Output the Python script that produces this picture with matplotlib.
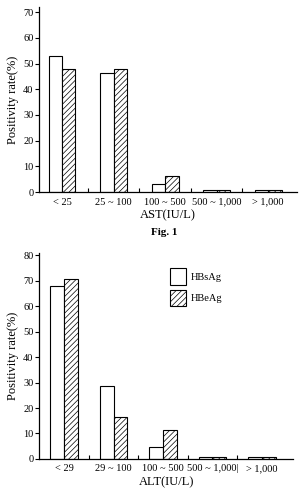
import matplotlib

matplotlib.use("Agg")
import matplotlib.pyplot as plt
import numpy as np

# AST groups (Fig. 1)
ast_groups = ["< 25", "25 ~ 100", "100 ~ 500", "500 ~ 1,000", "> 1,000"]
ast_hbsag = [53.0, 46.5, 3.0, 1.0, 1.0]
ast_hbeag = [47.8, 47.8, 6.3, 1.0, 1.0]

# ALT groups
alt_groups = ["< 29", "29 ~ 100", "100 ~ 500", "500 ~ 1,000|", "> 1,000"]
alt_hbsag = [67.8, 28.8, 4.6, 0.6, 0.6]
alt_hbeag = [70.9, 16.5, 11.2, 0.6, 0.6]

series_names = ["HBsAg", "HBeAg"]

plt.rcParams["font.family"] = ["Liberation Serif", "DejaVu Serif"]
plt.rcParams["hatch.linewidth"] = 0.5
FS = 7.5
LABEL_FS = 9


def draw_panel(ax, groups, s1, s2, width, ymax, yticks, xlim, xlabel):
    x = np.arange(len(groups))
    b1 = ax.bar(x - width / 2, s1, width, color="white", edgecolor="black",
                linewidth=0.8, label=series_names[0])
    b2 = ax.bar(x + width / 2, s2, width, color="white", edgecolor="black",
                linewidth=0.8, hatch="//////", label=series_names[1])
    ax.set_xlim(*xlim)
    ax.set_ylim(0, ymax)
    ax.set_yticks(yticks)
    ax.set_xticks(x)
    ax.set_xticklabels(groups, fontsize=FS)
    ax.set_xticks(x[:-1] + 0.5, minor=True)
    ax.tick_params(axis="x", which="major", length=0, pad=4)
    ax.tick_params(axis="x", which="minor", length=3, direction="in", width=0.8)
    ax.tick_params(axis="y", labelsize=FS, length=3, width=0.8, pad=1)
    for side in ("top", "right"):
        ax.spines[side].set_visible(False)
    for side in ("left", "bottom"):
        ax.spines[side].set_linewidth(0.9)
    ax.set_ylabel("Positivity rate(%)", fontsize=LABEL_FS, labelpad=3)
    ax.set_xlabel(xlabel, fontsize=LABEL_FS, labelpad=2)
    return b1, b2


fig = plt.figure(figsize=(3.05, 4.94), dpi=100)

ax1 = fig.add_axes([0.128, 0.611, 0.846, 0.375])
draw_panel(ax1, ast_groups, ast_hbsag, ast_hbeag, 0.26, 72,
           range(0, 71, 10), (-0.447, 4.56), "AST(IU/L)")
fig.text(0.537, 0.530, "Fig. 1", fontsize=8, fontweight="bold", ha="center", va="center")

ax2 = fig.add_axes([0.128, 0.071, 0.833, 0.417])
draw_panel(ax2, alt_groups, alt_hbsag, alt_hbeag, 0.28, 81,
           range(0, 81, 10), (-0.505, 4.63), "ALT(IU/L)")
ax2.legend(loc="upper left", bbox_to_anchor=(0.48, 0.97), frameon=False,
           fontsize=FS, handlelength=1.5, handleheight=2.0, labelspacing=0.5,
           handletextpad=0.5)

fig.savefig("out.png", dpi=100)
